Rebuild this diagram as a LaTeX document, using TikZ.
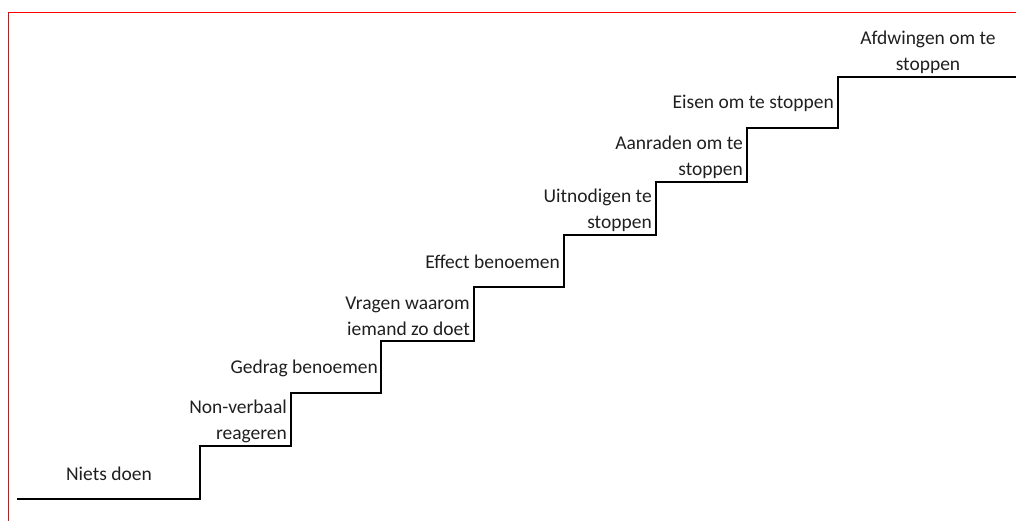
\documentclass[tikz,border=0pt]{standalone}
\usepackage{fontspec}
\setmainfont{Carlito}
\begin{document}
\begin{tikzpicture}[x=1pt,y=-1pt,
  lbl/.style={anchor=east,align=right,inner sep=0pt,font=\fontsize{19.5}{26}\selectfont,text=black!88},
  lblc/.style={anchor=center,align=center,inner sep=0pt,font=\fontsize{19.5}{26}\selectfont,text=black!88},
  stair/.style={draw=black,line width=2pt,line join=miter},
  frame/.style={draw=red,line width=1.4pt}]
\useasboundingbox (0,0) rectangle (1016,521);
\draw[frame] (8.5,521) -- (8.5,12.5) -- (1016,12.5);
\draw[stair] (17,499) -- (200,499) -- (200,446) -- (291,446) -- (291,393) -- (381,393) -- (381,341)
  -- (474,341) -- (474,287) -- (564,287) -- (564,235) -- (656,235) -- (656,182) -- (747,182)
  -- (747,128) -- (838,128) -- (838,77) -- (1016,77);
\node[lblc] (s0) at (109,474) {Niets doen};
\node[lbl] (s1) at (287,421) {Non-verbaal\\reageren};
\node[lbl] (s2) at (378,368) {Gedrag benoemen};
\node[lbl] (s3) at (470,316) {Vragen waarom\\iemand zo doet};
\node[lbl] (s4) at (560,262) {Effect benoemen};
\node[lbl] (s5) at (652,210) {Uitnodigen te\\stoppen};
\node[lbl] (s6) at (743,157) {Aanraden om te\\stoppen};
\node[lbl] (s7) at (834,103) {Eisen om te stoppen};
\node[lblc] (s8) at (928,52) {Afdwingen om te\\stoppen};
\end{tikzpicture}
\end{document}
